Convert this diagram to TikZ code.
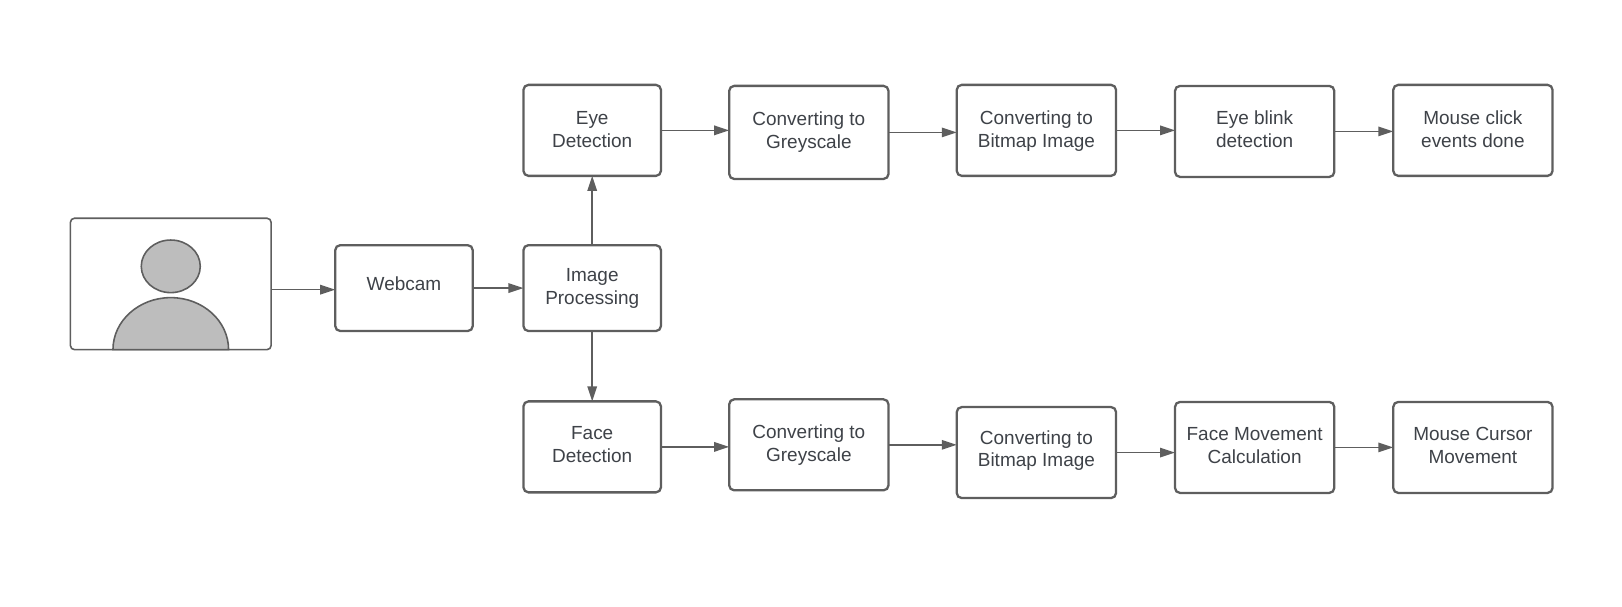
\documentclass[tikz,border=0pt]{standalone}
\usepackage{fontspec}
\setmainfont{Liberation Sans}
\usepackage{tikz}
\usetikzlibrary{arrows.meta,shapes,positioning}
\usepackage{xcolor}
\definecolor{lcline}{RGB}{94,94,94}
\definecolor{lctext}{RGB}{62,66,72}
\definecolor{lcfill}{RGB}{189,189,189}
\tikzstyle{arrow} = [line width=0.9pt,-{Triangle[length=0.3cm,width=0.19cm]},color=lcline]
\tikzstyle{flowbox} = [rectangle, rounded corners=0.1cm, minimum width=3.186cm, minimum height=1.82cm, align=center, draw=lcline, fill=white, line width=1.3pt, outer sep=0pt, text=lctext]
\tikzstyle{shortbox} = [flowbox, minimum width=2.75cm]
\tikzstyle{person} = [draw=lcline, fill=lcfill, line width=0.9pt]

\begin{document}
\begin{tikzpicture}[
    every node/.style={font=\fontsize{10.8}{12.95}\selectfont}
]
\useasboundingbox (-11.844,-6.358) rectangle (20.596,5.762);

% Central node
\node[shortbox, minimum height=1.717cm] (imgproc) {Image\\Processing};

% Input branch
\node[shortbox, left=1.014cm of imgproc, minimum height=1.717cm, text depth=4.7pt] (webcam) {Webcam};
\node[rectangle, rounded corners=0.08cm, minimum width=4.013cm, minimum height=2.627cm, draw=lcline, fill=white, line width=0.9pt, outer sep=0pt, left=1.283cm of webcam, yshift=0.083cm] (frame) {};
\node[ellipse, person, minimum width=1.18cm, minimum height=1.052cm, inner sep=0pt, outer sep=0pt, above=1.14cm of frame.south, anchor=south] (head) {};
\draw[person] ([xshift=-1.156cm]frame.south) arc[start angle=180, end angle=0, x radius=1.156cm, y radius=1.04cm] -- cycle;

% Eye branch
\node[shortbox, above=1.386cm of imgproc, text depth=1.2pt] (eye) {Eye\\Detection};
\node[flowbox, right=1.365cm of eye, yshift=-0.041cm, minimum height=1.862cm] (greyeye) {Converting to\\Greyscale};
\node[flowbox, right=1.365cm of greyeye, yshift=0.041cm, text depth=1.1pt] (bitmapeye) {Converting to\\Bitmap Image};
\node[flowbox, right=1.179cm of bitmapeye, yshift=-0.021cm, text depth=2.4pt] (blink) {Eye blink\\detection};
\node[flowbox, right=1.179cm of blink, yshift=0.021cm, text depth=1.2pt] (click) {Mouse click\\events done};

% Face branch
\node[shortbox, below=1.407cm of imgproc, text depth=2.4pt] (face) {Face\\Detection};
\node[flowbox, right=1.365cm of face, yshift=0.041cm] (greyface) {Converting to\\Greyscale};
\node[flowbox, right=1.365cm of greyface, yshift=-0.155cm, text depth=4.6pt] (bitmapface) {Converting to\\Bitmap Image};
\node[flowbox, right=1.179cm of bitmapface, yshift=0.103cm, text depth=2.4pt] (calc) {Face Movement\\Calculation};
\node[flowbox, right=1.179cm of calc, text depth=2.4pt] (cursor) {Mouse Cursor\\Movement};

% Connections
\draw[arrow] ([yshift=-0.031cm]frame.east |- webcam) -- ([yshift=-0.031cm]webcam.west);
\draw[arrow] (webcam) -- (imgproc);
\draw[arrow] (imgproc) -- (eye);
\draw[arrow] (imgproc) -- (face);
\draw[arrow] (eye.east) -- (eye.east -| greyeye.west);
\draw[arrow] (greyeye.east) -- (greyeye.east -| bitmapeye.west);
\draw[arrow] (bitmapeye.east) -- (bitmapeye.east -| blink.west);
\draw[arrow] (blink.east) -- (blink.east -| click.west);
\draw[arrow] (face.east) -- (face.east -| greyface.west);
\draw[arrow] (greyface.east) -- (greyface.east -| bitmapface.west);
\draw[arrow] (bitmapface.east) -- (bitmapface.east -| calc.west);
\draw[arrow] (calc.east) -- (calc.east -| cursor.west);

\end{tikzpicture}
\end{document}
